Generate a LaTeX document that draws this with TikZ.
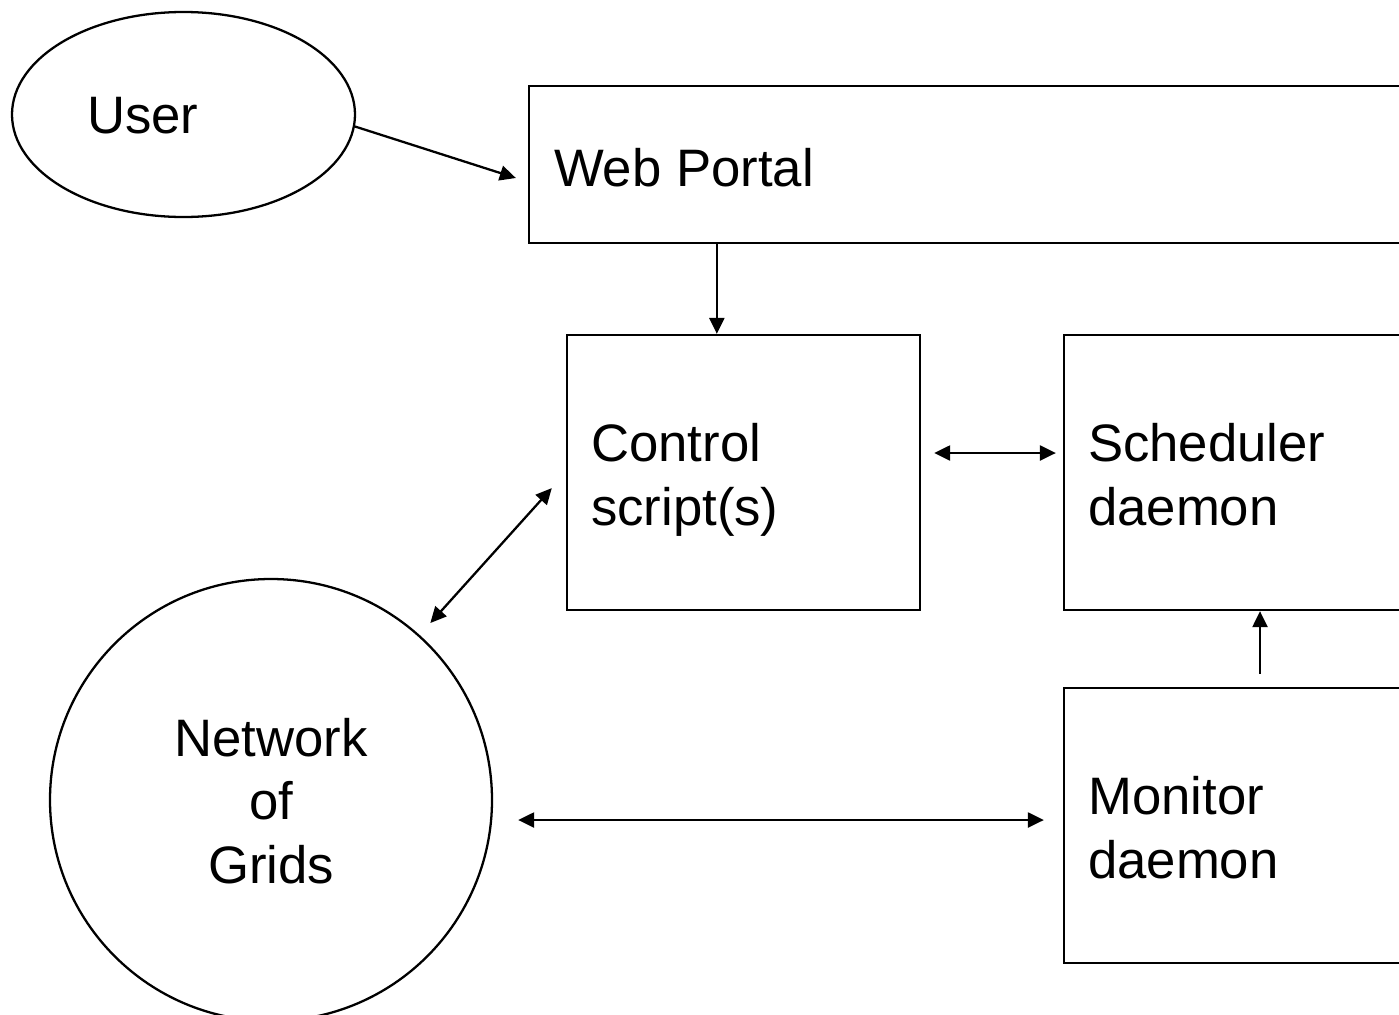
\documentclass[tikz,border=0pt]{standalone}
\usepackage{fontspec}
\setmainfont{Liberation Sans}
\usetikzlibrary{positioning}
\usetikzlibrary{shapes.geometric}
\usetikzlibrary{arrows.meta}
\usetikzlibrary{calc}

\begin{document}
\begin{tikzpicture}[
        x = 0.02cm, y = -0.02cm, % one unit is one pixel, y runs down
        > = {Triangle[length=0.32cm, width=0.3cm]}, % arrow head style
        line width = 1.3pt, % line style
        font = \fontsize{30}{36}\selectfont,
        box/.style = {draw, rectangle, inner sep=0pt},
        txt/.style = {inner sep=0pt}
        ]

  \useasboundingbox (0,0) rectangle (1399,1014);
  \clip (0,0) rectangle (1399,1014);

  % shapes
  \node[draw, ellipse, inner sep=0pt, minimum width=343*0.02cm, minimum height=205*0.02cm] (user) at (183.5,114.5) {};
  \node[box, minimum width=891*0.02cm, minimum height=157*0.02cm] (portal) at (974.5,164.5) {};
  \node[box, minimum width=353*0.02cm, minimum height=275*0.02cm] (control) at (743.5,472.5) {};
  \node[box, minimum width=353*0.02cm, minimum height=275*0.02cm] (scheduler) at (1240.5,472.5) {};
  \node[box, minimum width=353*0.02cm, minimum height=275*0.02cm] (monitor) at (1240.5,825.5) {};
  \node[draw, circle, inner sep=0pt, minimum size=442*0.02cm] (grids) at (271,800) {};

  % texts (base = last line)
  \node[txt, anchor=base west] (usertext) at (86,133) {User};
  \node[txt, anchor=base west] (portaltext) at (553,186) {Web Portal};
  \node[txt, anchor=base west, align=left] (controltext) at (590,525) {Control\\script(s)};
  \node[txt, anchor=base west, align=left] (schedulertext) at (1087,525) {Scheduler\\daemon};
  \node[txt, anchor=base west, align=left] (monitortext) at (1087,878) {Monitor\\daemon};
  \node[txt, anchor=base, align=center] (gridstext) at (271,883) {Network\\of\\Grids};

  % connectors
  \draw[->] (user.-4) -- ($(portal.west)+(-12,13.5)$);
  \draw[->] ($(portal.south west)+(189,0)$) -- ($(control.north west)+(151,0)$);
  \draw[<->] ($(control.east)+(13,-19.5)$) -- ($(scheduler.west)+(-7,-19.5)$);
  \draw[<->, shorten <=0.32cm, shorten >=0.42cm] (grids) -- (control.west);
  \draw[<->] ($(grids.east)+(25,20)$) -- ($(monitor.west)+(-19,-5.5)$);
  \draw[->] ($(monitor.north)+(19.5,-13)$) -- ($(scheduler.south)+(19.5,0)$);

%\draw [->] (portaltext) -- (controltext);

\end{tikzpicture}
\end{document}
